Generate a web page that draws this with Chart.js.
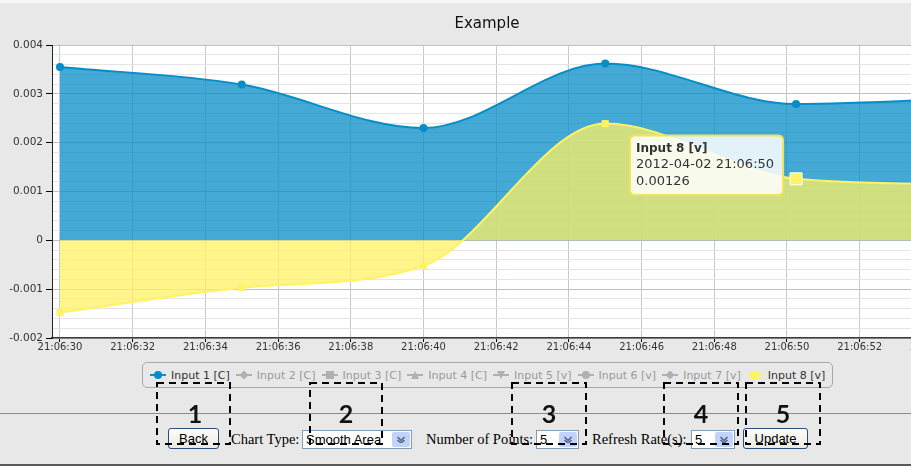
<!DOCTYPE html>
<html>
<head>
  <title>Example</title>
  <script src="https://cdn.jsdelivr.net/npm/chart.js"></script>
  <style>
    body {
      margin: 0;
      width: 911px;
      height: 466px;
      overflow: hidden;
      position: relative;
      background-color: #e8e8e8;
      font-family: 'DejaVu Sans', sans-serif;
    }

    .top-strip {
      position: absolute;
      left: 0;
      top: 0;
      width: 911px;
      height: 3px;
      background-color: #f6f6f6;
    }

    .chart-container {
      position: absolute;
      left: 0;
      top: 0;
      width: 976px;
      height: 360px;
    }

    .legend-box {
      position: absolute;
      left: 142px;
      top: 362px;
      width: 691px;
      height: 26px;
      box-sizing: border-box;
      border: 1px solid #a8a8a8;
      border-radius: 5px;
      display: flex;
      align-items: center;
      padding-left: 7px;
      font-size: 11px;
    }

    .legend-item {
      display: flex;
      align-items: center;
      margin-right: 6px;
      color: #9a9a9a;
      white-space: nowrap;
    }

    .legend-item.active {
      color: #333;
    }

    .legend-item svg {
      margin-right: 5px;
    }

    .rule {
      position: absolute;
      left: 0;
      width: 911px;
    }

    .btn {
      position: absolute;
      top: 428px;
      height: 21px;
      box-sizing: border-box;
      border: 1px solid #2c4e7e;
      border-radius: 3px;
      background: linear-gradient(#fdfdfb, #ebe9e2);
      font: 13px 'Liberation Sans', sans-serif;
      line-height: 19px;
      text-align: center;
      color: #000;
    }

    .lbl {
      position: absolute;
      top: 430px;
      font: 14.5px 'Liberation Serif', serif;
      line-height: 18px;
      color: #000;
    }

    .sel {
      position: absolute;
      top: 430px;
      height: 19px;
      box-sizing: border-box;
      border: 1px solid #7f9db9;
      background: #fff;
      font: 13px 'Liberation Sans', sans-serif;
      line-height: 17px;
      padding-left: 3px;
      color: #000;
    }

    .sel i {
      position: absolute;
      right: 1px;
      top: 1px;
      width: 18px;
      height: 15px;
      border-radius: 2px;
      background: #c1d3fb;
    }

    .sel i svg {
      position: absolute;
      left: 5px;
      top: 4px;
    }

    .overlay {
      position: absolute;
      left: 0;
      top: 0;
    }
  </style>
</head>
<body>
  <div class="top-strip"></div>
  <div class="chart-container">
    <canvas id="exampleChart"></canvas>
  </div>

  <div class="legend-box" id="legendBox"></div>

  <div class="rule" style="top:413px;height:1px;background:#8c8c8c"></div>
  <div class="rule" style="top:464px;height:2px;background:#5a5a5a"></div>

  <div class="btn" style="left:168px;width:51px">Back</div>
  <div class="lbl" style="left:231px">Chart Type:</div>
  <div class="sel" style="left:302px;width:110px">Smooth Area<i></i></div>
  <div class="lbl" style="left:426px">Number of Points:</div>
  <div class="sel" style="left:536px;width:43px">5<i></i></div>
  <div class="lbl" style="left:592px">Refresh Rate(s):</div>
  <div class="sel" style="left:691px;width:44px">5<i></i></div>
  <div class="btn" style="left:743px;width:65px">Update</div>

  <svg class="overlay" width="911" height="466">
    <g fill="none" stroke="#000" stroke-width="2" stroke-dasharray="7 5">
      <rect x="157" y="383" width="73" height="61"/>
      <rect x="310" y="383" width="72" height="61"/>
      <rect x="512" y="383" width="74" height="61"/>
      <rect x="664" y="383" width="74" height="61"/>
      <rect x="746" y="383" width="74" height="61"/>
    </g>
    <g font-family="Lato, 'Open Sans', sans-serif" font-weight="bold" font-size="25" fill="#111" text-anchor="middle">
      <text x="195" y="423">1</text>
      <text x="346" y="423">2</text>
      <text x="549" y="423">3</text>
      <text x="701" y="423">4</text>
      <text x="783" y="423">5</text>
    </g>
  </svg>

  <script>
    // Data (seconds after 21:06:00)
    const timePrefix = '21:06:';
    const datePrefix = '2012-04-02';
    const pointSeconds = [30, 35, 40, 45, 50.25, 55.3];
    const input1Values = [0.00355, 0.00319, 0.00230, 0.00362, 0.00279, 0.00292];
    const input8Values = [-0.00148, -0.00097, -0.00052, 0.00239, 0.00126, 0.00114];
    const xTickSeconds = [30, 32, 34, 36, 38, 40, 42, 44, 46, 48, 50, 52, 54];
    const seriesNames = ['Input 1 [C]', 'Input 2 [C]', 'Input 3 [C]', 'Input 4 [C]',
                         'Input 5 [v]', 'Input 6 [v]', 'Input 7 [v]', 'Input 8 [v]'];
    const seriesSymbols = ['circle', 'diamond', 'square', 'triangle',
                           'triangle-down', 'circle', 'diamond', 'square'];
    const visibleSeries = [0, 7];
    const hoveredIndex = 4;

    const blue = '#058DC7';
    const yellow = '#FFF263';

    function pad2(n) {
      return String(Math.floor(n)).padStart(2, '0');
    }

    function toPoints(values) {
      return values.map((v, i) => ({ x: pointSeconds[i], y: v }));
    }

    // Custom legend
    function markerSvg(shape, color) {
      let m;
      if (shape === 'circle') m = `<circle cx="8" cy="6" r="4" fill="${color}"/>`;
      else if (shape === 'diamond') m = `<path d="M8 1.5 L12.5 6 L8 10.5 L3.5 6 Z" fill="${color}"/>`;
      else if (shape === 'square') m = `<rect x="4" y="2" width="8" height="8" fill="${color}"/>`;
      else if (shape === 'triangle') m = `<path d="M8 2 L12 10 L4 10 Z" fill="${color}"/>`;
      else m = `<path d="M4 2 L12 2 L8 10 Z" fill="${color}"/>`;
      return `<svg width="16" height="12"><line x1="0" y1="6" x2="16" y2="6" stroke="${color}" stroke-width="2"/>${m}</svg>`;
    }

    const legendBox = document.getElementById('legendBox');
    seriesNames.forEach((name, i) => {
      const active = visibleSeries.includes(i);
      const color = i === 0 ? blue : (i === 7 ? yellow : '#b0b0b0');
      const item = document.createElement('div');
      item.className = 'legend-item' + (active ? ' active' : '');
      item.innerHTML = markerSvg(seriesSymbols[i], color) + '<span>' + name + '</span>';
      legendBox.appendChild(item);
    });

    // Dropdown arrows
    document.querySelectorAll('.sel i').forEach(el => {
      el.innerHTML = '<svg width="8" height="7"><path d="M0.5 1 L4 4.5 L7.5 1 M0.5 4 L4 7 L7.5 4" fill="none" stroke="#4d6185" stroke-width="1.5"/></svg>';
    });

    const plotBackground = {
      id: 'plotBackground',
      beforeDraw(chart) {
        const { ctx, chartArea: a } = chart;
        ctx.save();
        ctx.fillStyle = '#ffffff';
        ctx.fillRect(a.left, a.top, a.right - a.left, a.bottom - a.top);
        ctx.restore();
      }
    };

    Chart.Tooltip.positioners.nearPoint = function(items) {
      if (!items.length) return false;
      const el = items[0].element;
      return { x: el.x - 13, y: el.y - 13.5 };
    };

    function isMajor(v) {
      return Math.abs(v * 1000 - Math.round(v * 1000)) < 1e-6;
    }

    const ctx = document.getElementById('exampleChart').getContext('2d');
    const chart = new Chart(ctx, {
      type: 'line',
      data: {
        datasets: [
          {
            label: seriesNames[0],
            data: toPoints(input1Values),
            order: 1,
            borderColor: blue,
            borderWidth: 2,
            backgroundColor: 'rgba(5, 141, 199, 0.75)',
            fill: 'origin',
            cubicInterpolationMode: 'monotone',
            pointStyle: 'circle',
            pointRadius: 4,
            pointBorderWidth: 0,
            pointBackgroundColor: blue
          },
          {
            label: seriesNames[7],
            data: toPoints(input8Values),
            order: 0,
            borderColor: yellow,
            borderWidth: 2,
            backgroundColor: 'rgba(255, 242, 99, 0.75)',
            fill: 'origin',
            cubicInterpolationMode: 'monotone',
            pointStyle: 'rect',
            pointRadius: 5,
            pointBorderWidth: 0,
            pointBackgroundColor: yellow,
            pointHoverRadius: 8.5,
            pointHoverBackgroundColor: yellow,
            pointHoverBorderColor: '#ffffff',
            pointHoverBorderWidth: 1
          }
        ]
      },
      options: {
        responsive: true,
        maintainAspectRatio: false,
        animation: false,
        events: [],
        layout: {
          padding: { left: 8, right: 10, top: 2, bottom: 8 }
        },
        scales: {
          x: {
            type: 'linear',
            min: 29.78,
            max: 54.925,
            afterBuildTicks: scale => {
              scale.ticks = xTickSeconds.map(v => ({ value: v }));
            },
            ticks: {
              autoSkip: false,
              maxRotation: 0,
              padding: -1,
              color: '#333',
              font: { family: 'DejaVu Sans', size: 10 },
              callback: v => timePrefix + pad2(v)
            },
            grid: {
              color: '#c8c8c8',
              tickColor: '#000',
              tickLength: 4
            },
            border: { color: '#3a3a3a', width: 1.5 }
          },
          y: {
            min: -0.002,
            max: 0.004,
            afterFit: scale => { scale.width = 44; },
            ticks: {
              stepSize: 0.0002,
              autoSkip: false,
              padding: 3,
              color: '#333',
              font: { family: 'DejaVu Sans', size: 10.5 },
              callback: v => isMajor(v) ? String(Math.round(v * 1000) / 1000) : ''
            },
            grid: {
              color: c => isMajor(c.tick.value) ? '#c0c0c0' : '#e4e4e4',
              tickColor: c => isMajor(c.tick.value) ? '#000' : 'rgba(0,0,0,0)',
              tickLength: 6
            },
            border: { color: '#222', width: 1 }
          }
        },
        plugins: {
          legend: { display: false },
          title: {
            display: true,
            text: 'Example',
            color: '#111',
            font: { family: 'DejaVu Sans', size: 15, weight: 'normal' },
            padding: { top: 13.5, bottom: 11.5 }
          },
          tooltip: {
            enabled: true,
            position: 'nearPoint',
            xAlign: 'right',
            yAlign: 'center',
            caretSize: 0,
            caretPadding: 0,
            backgroundColor: 'rgba(255, 255, 255, 0.85)',
            borderColor: '#f3e35a',
            borderWidth: 2,
            cornerRadius: 5,
            displayColors: false,
            titleColor: '#333',
            bodyColor: '#333',
            titleFont: { family: 'DejaVu Sans', size: 12, weight: 'bold' },
            bodyFont: { family: 'DejaVu Sans', size: 13 },
            padding: { top: 6, bottom: 6, left: 6, right: 9 },
            titleMarginBottom: 1,
            bodySpacing: 1,
            callbacks: {
              title: items => items[0].dataset.label,
              label: item => [
                datePrefix + ' ' + timePrefix + pad2(item.parsed.x),
                String(item.parsed.y)
              ]
            }
          }
        }
      },
      plugins: [plotBackground]
    });

    // Show the hovered point and its tooltip as in the picture
    const active = [{ datasetIndex: 1, index: hoveredIndex }];
    chart.setActiveElements(active);
    const el = chart.getDatasetMeta(1).data[hoveredIndex];
    chart.tooltip.setActiveElements(active, { x: el.x, y: el.y });
    chart.update('none');
  </script>
</body>
</html>
